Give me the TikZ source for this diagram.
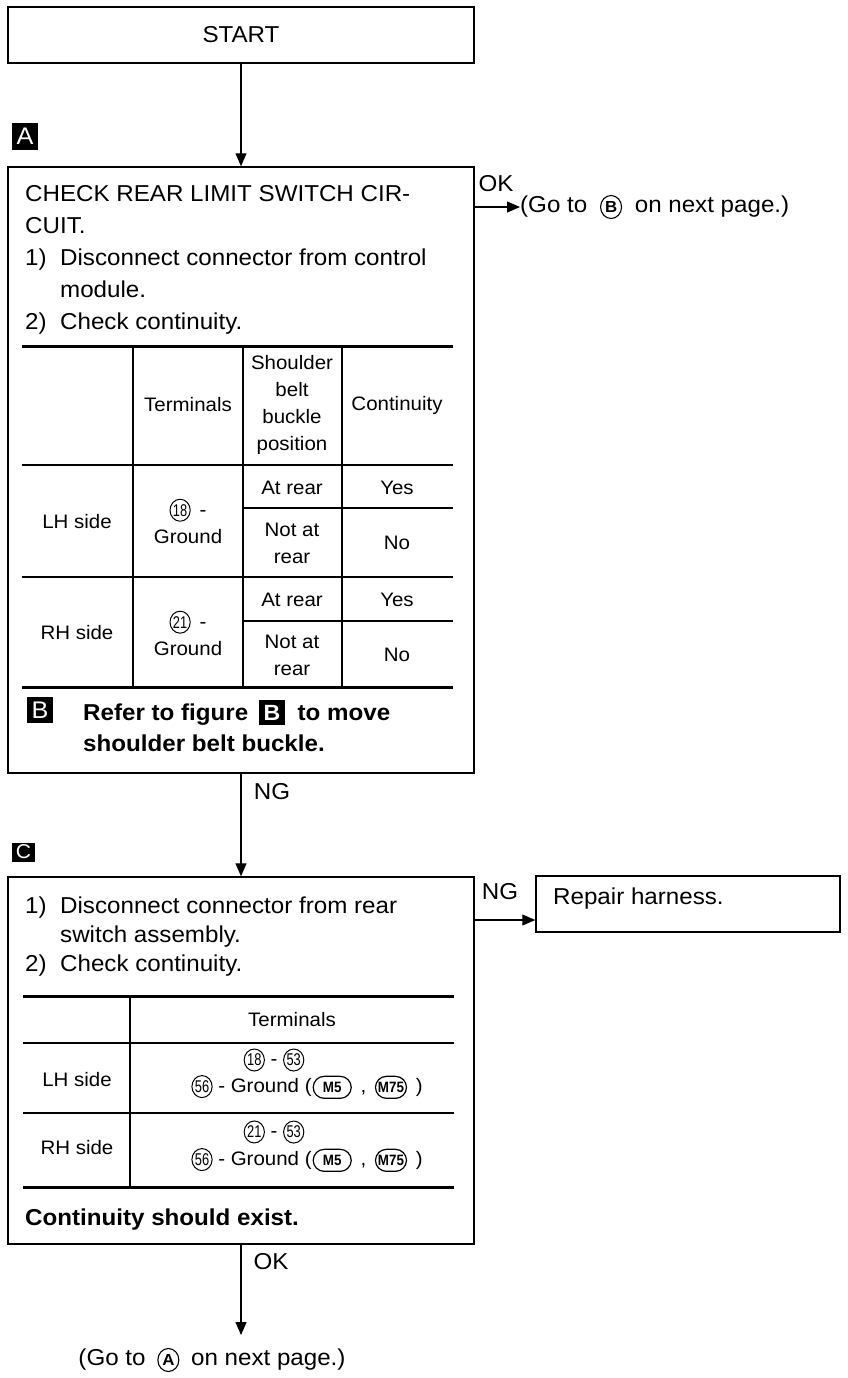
\documentclass[tikz,border=0pt]{standalone}
\usepackage{fontspec}
\usepackage{graphicx}
\setmainfont{Liberation Sans}[FakeStretch=1.05]
\usetikzlibrary{arrows.meta,shapes.misc,shapes.geometric}
\newcommand{\cn}[1]{\tikz[baseline=(cnX.base)]\node[draw,ellipse,inner sep=0pt,minimum width=18pt,minimum height=22pt,line width=1pt,font=\fontsize{17}{17}\selectfont](cnX){\scalebox{0.72}[1]{#1}};}
\newcommand{\cl}[1]{\tikz[baseline=(clX.base)]\node[draw,ellipse,inner sep=0pt,minimum width=21pt,minimum height=23pt,line width=1.1pt,font=\bfseries\fontsize{16}{16}\selectfont](clX){#1};}
\newcommand{\mo}[2]{\tikz[baseline=(moX.base)]\node[draw,rounded rectangle,inner sep=0pt,minimum width=#2pt,minimum height=22pt,line width=1.2pt,font=\bfseries\fontsize{15}{15}\selectfont](moX){\scalebox{0.85}[1]{#1}};}
\newcommand{\bl}[1]{\tikz[baseline=(blX.base)]\node[fill=black,text=white,inner sep=0pt,minimum width=26pt,minimum height=25pt,font=\fontsize{22}{22}\selectfont](blX){#1};}
\begin{document}
\begin{tikzpicture}[x=1pt,y=-1pt,
  box/.style={draw,line width=1.5pt,inner sep=0pt},
  arr/.style={line width=1.2pt,-{Triangle[length=13pt,width=11pt]}},
  main/.style={font=\fontsize{23}{29}\selectfont,inner sep=0pt},
  bmain/.style={font=\bfseries\fontsize{23}{29}\selectfont,inner sep=0pt},
  tab/.style={font=\fontsize{19.5}{27}\selectfont,inner sep=0pt,align=center},
  lab/.style={fill=black,text=white,inner sep=0pt,font=\fontsize{24}{24}\selectfont},
  tline/.style={line width=3pt},
  tabthin/.style={line width=1.3pt}]
\useasboundingbox (0,0) rectangle (847,1378);
% START
\node[box,minimum width=466pt,minimum height=56pt,main] (start) at (241,35) {START};
% A
\node[lab,minimum width=26pt,minimum height=27pt] (labA) at (25,136.5) {A};
\node[box,minimum width=466pt,minimum height=606pt] (boxA) at (241,470) {};
\draw[arr] (start.south) -- (boxA.north);
\node[main,anchor=base west] (a1) at (25,201) {CHECK REAR LIMIT SWITCH CIR-};
\node[main,anchor=base west] (a2) at (25,233) {CUIT.};
\node[main,anchor=base west] (a3n) at (25,265) {1)};
\node[main,anchor=base west] (a3) at (60,265) {Disconnect connector from control};
\node[main,anchor=base west] (a4) at (60,297) {module.};
\node[main,anchor=base west] (a5n) at (25,329) {2)};
\node[main,anchor=base west] (a5) at (60,329) {Check continuity.};
% table A
\draw[tline] (22,346) -- (453,346);
\draw[tline] (22,687) -- (453,687);
\draw[tabthin] (133,346) -- (133,687);
\draw[tabthin] (243,346) -- (243,687);
\draw[tabthin] (342,346) -- (342,687);
\draw[tabthin] (22,465) -- (453,465);
\draw[tabthin] (243,508) -- (453,508);
\draw[tabthin] (22,577) -- (453,577);
\draw[tabthin] (243,621) -- (453,621);
\node[tab] (hTerm) at (188,405) {Terminals};
\node[tab] (hPos) at (292,405) {Shoulder\\belt\\buckle\\position};
\node[tab] (hCont) at (397,405) {Continuity};
\node[tab] (lhA) at (77,522) {LH side};
\node[tab] (lhT) at (188,521) {\cn{18} \,-\\Ground};
\node[tab] (lhP1) at (292,488) {At rear};
\node[tab] (lhC1) at (397,488) {Yes};
\node[tab] (lhP2) at (292,543) {Not at\\rear};
\node[tab] (lhC2) at (397,543) {No};
\node[tab] (rhA) at (77,633) {RH side};
\node[tab] (rhT) at (188,633) {\cn{21} \,-\\Ground};
\node[tab] (rhP1) at (292,600) {At rear};
\node[tab] (rhC1) at (397,600) {Yes};
\node[tab] (rhP2) at (292,655) {Not at\\rear};
\node[tab] (rhC2) at (397,655) {No};
\node[lab,minimum width=26pt,minimum height=26pt] (labB) at (40,710) {B};
\node[bmain,anchor=base west] (ref1) at (83,720) {Refer to figure\hspace{4pt} \bl{B}\hspace{6pt} to move};
\node[bmain,anchor=base west] (ref2) at (83,751) {shoulder belt buckle.};
% OK to B
\node[main,anchor=west] (goB) at (520,207) {(Go to\hspace{6pt} \cl{B}\hspace{6pt} on next page.)};
\draw[arr] (boxA.east |- goB.west) -- (goB.west);
\node[main] (okA) at (496,184) {OK};
% C
\node[lab,minimum width=23pt,minimum height=19pt,font=\fontsize{20}{20}\selectfont] (labC) at (23.5,852) {C};
\node[box,minimum width=466pt,minimum height=367pt] (boxC) at (241,1060.5) {};
\draw[arr] (boxA.south) -- (boxC.north);
\node[main] (ngA) at (272,792) {NG};
\node[main,anchor=base west] (c1n) at (25,913) {1)};
\node[main,anchor=base west] (c1) at (60,913) {Disconnect connector from rear};
\node[main,anchor=base west] (c2) at (60,942) {switch assembly.};
\node[main,anchor=base west] (c3n) at (25,971) {2)};
\node[main,anchor=base west] (c3) at (60,971) {Check continuity.};
% table C
\draw[tline] (23,996) -- (454,996);
\draw[tline] (23,1187) -- (454,1187);
\draw[tabthin] (130,996) -- (130,1187);
\draw[tabthin] (23,1043) -- (454,1043);
\draw[tabthin] (23,1113) -- (454,1113);
\node[tab] (cTerm) at (292,1020) {Terminals};
\node[tab] (cLH) at (77,1080) {LH side};
\node[tab] (cLH1) at (274,1060) {\cn{18} - \cn{53}};
\node[tab] (cLH2) at (307,1087) {\cn{56} - Ground (\hspace{1pt}\mo{M5}{38}\hspace{3pt} ,\hspace{3pt} \mo{M75}{31}\hspace{3pt} )};
\node[tab] (cRH) at (77,1148) {RH side};
\node[tab] (cRH1) at (274,1132) {\cn{21} - \cn{53}};
\node[tab] (cRH2) at (307,1160) {\cn{56} - Ground (\hspace{1pt}\mo{M5}{38}\hspace{3pt} ,\hspace{3pt} \mo{M75}{31}\hspace{3pt} )};
\node[bmain,anchor=base west] (cont) at (25,1225) {Continuity should exist.};
% Repair
\node[box,minimum width=304pt,minimum height=56pt] (repair) at (688,904) {};
\node[main,anchor=west] (repT) at (553,899) {Repair harness.};
\coordinate (ngc) at (0,920);
\draw[arr] (boxC.east |- ngc) -- (repair.west |- ngc);
\node[main] (ngC) at (500,892) {NG};
% OK to A
\coordinate (endA) at (241,1335);
\draw[arr] (boxC.south) -- (endA);
\node[main] (okC) at (271,1262) {OK};
\node[main] (goA) at (212,1360) {(Go to\hspace{5pt} \cl{A}\hspace{5pt} on next page.)};
\end{tikzpicture}
\end{document}
